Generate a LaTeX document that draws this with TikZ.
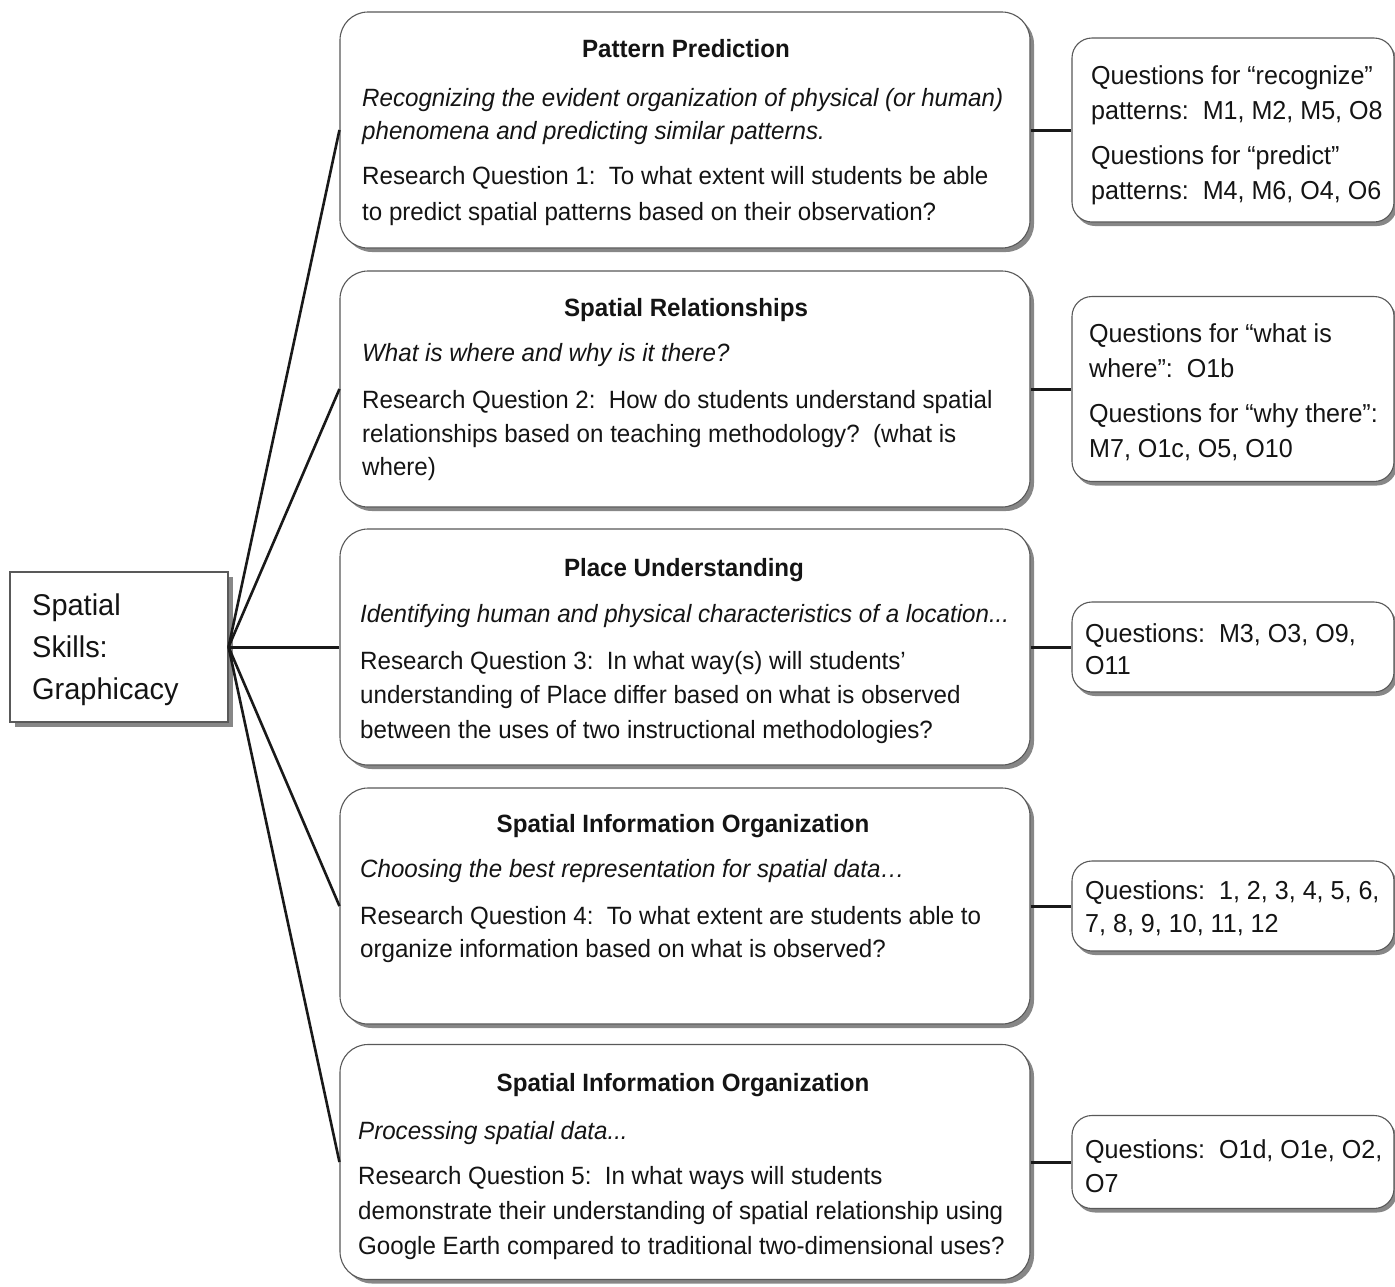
\documentclass[tikz,border=0pt]{standalone}
\usepackage{fontspec}
\setmainfont{Liberation Sans}[FakeStretch=0.965]
\usetikzlibrary{shadows}
\begin{document}
\begin{tikzpicture}[x=1pt,y=-1pt,
  mainbox/.style={draw=black!65, line width=1.1pt, rounded corners=28pt, fill=white,
    minimum width=690pt, minimum height=236pt, inner sep=0pt,
    drop shadow={shadow xshift=4pt, shadow yshift=-4pt, fill=black!55, opacity=0.85}},
  qbox/.style={draw=black!65, line width=1.1pt, rounded corners=20pt, fill=white,
    minimum width=322pt, inner sep=0pt,
    drop shadow={shadow xshift=3pt, shadow yshift=-4pt, fill=black!55, opacity=0.85}},
  rootbox/.style={draw=black!65, line width=1.1pt, fill=white,
    minimum width=218pt, minimum height=150pt, inner sep=0pt,
    drop shadow={shadow xshift=5pt, shadow yshift=-5pt, fill=black!55, opacity=0.85}},
  txt/.style={inner sep=0pt, anchor=base west, text=black!92, font=\fontsize{25}{30}\selectfont},
  qtxt/.style={txt, font=\fontsize{26}{30}\selectfont},
  head/.style={inner sep=0pt, anchor=base, text=black!92, font=\fontsize{25}{30}\selectfont\bfseries},
  roottxt/.style={inner sep=0pt, anchor=base west, text=black!92, font=\fontsize{30}{36}\selectfont},
  fan/.style={draw=black!90, line width=2.6pt},
  link/.style={draw=black!90, line width=3pt}]
\useasboundingbox (0,0) rectangle (1395,1286);
\fill[white] (0,0) rectangle (1395,1286);
\begin{scope}
\clip (0,0) rectangle (1395,1286);
% root
\node[rootbox] (root) at (119,647) {};
\node[roottxt] (rt1) at (32,615) {Spatial};
\node[roottxt] (rt2) at (32,657) {Skills:};
\node[roottxt] (rt3) at (32,699) {Graphicacy};
% main boxes
\node[mainbox] (b1) at (685,130) {};
\node[mainbox] (b2) at (685,389) {};
\node[mainbox] (b3) at (685,647) {};
\node[mainbox] (b4) at (685,906) {};
\node[mainbox, minimum height=235pt] (b5) at (685,1162) {};
% question boxes
\node[qbox, minimum height=184pt] (q1) at (1233,130) {};
\node[qbox, minimum height=185pt] (q2) at (1233,389) {};
\node[qbox, minimum height=90pt] (q3) at (1233,647) {};
\node[qbox, minimum height=90pt] (q4) at (1233,906) {};
\node[qbox, minimum height=93pt] (q5) at (1233,1162) {};
% connectors
\draw[fan] (root.east) -- (b1.west);
\draw[fan] (root.east) -- (b2.west);
\draw[link] (root.east) -- (b3.west);
\draw[fan] (root.east) -- (b4.west);
\draw[fan] (root.east) -- (b5.west);
\draw[link] (b1.east) -- (q1.west);
\draw[link] (b2.east) -- (q2.west);
\draw[link] (b3.east) -- (q3.west);
\draw[link] (b4.east) -- (q4.west);
\draw[link] (b5.east) -- (q5.west);
% box 1
\node[head] (h1) at (686,57) {Pattern Prediction};
\node[txt] (b1a) at (362,106) {\itshape Recognizing the evident organization of physical (or human)};
\node[txt] (b1b) at (362,139) {\itshape phenomena and predicting similar patterns.};
\node[txt] (b1c) at (362,184) {Research Question 1:\ \ To what extent will students be able};
\node[txt] (b1d) at (362,220) {to predict spatial patterns based on their observation?};
% box 2
\node[head] (h2) at (686,316) {Spatial Relationships};
\node[txt] (b2a) at (362,361) {\itshape What is where and why is it there?};
\node[txt] (b2b) at (362,408) {Research Question 2:\ \ How do students understand spatial};
\node[txt] (b2c) at (362,442) {relationships based on teaching methodology?\ \ (what is};
\node[txt] (b2d) at (362,475) {where)};
% box 3
\node[head] (h3) at (684,576) {Place Understanding};
\node[txt] (b3a) at (360,622) {\itshape Identifying human and physical characteristics of a location...};
\node[txt] (b3b) at (360,669) {Research Question 3:\ \ In what way(s) will students'};
\node[txt] (b3c) at (360,703) {understanding of Place differ based on what is observed};
\node[txt] (b3d) at (360,738) {between the uses of two instructional methodologies?};
% box 4
\node[head] (h4) at (683,832) {Spatial Information Organization};
\node[txt] (b4a) at (360,877) {\itshape Choosing the best representation for spatial data…};
\node[txt] (b4b) at (360,924) {Research Question 4:\ \ To what extent are students able to};
\node[txt] (b4c) at (360,957) {organize information based on what is observed?};
% box 5
\node[head] (h5) at (683,1091) {Spatial Information Organization};
\node[txt] (b5a) at (358,1139) {\itshape Processing spatial data...};
\node[txt] (b5b) at (358,1184) {Research Question 5:\ \ In what ways will students};
\node[txt] (b5c) at (358,1219) {demonstrate their understanding of spatial relationship using};
\node[txt] (b5d) at (358,1254) {Google Earth compared to traditional two-dimensional uses?};
% question texts
\node[qtxt] (q1a) at (1091,84) {Questions for “recognize”};
\node[qtxt] (q1b) at (1091,119) {patterns:\ \ M1, M2, M5, O8};
\node[qtxt] (q1c) at (1091,164) {Questions for “predict”};
\node[qtxt] (q1d) at (1091,199) {patterns:\ \ M4, M6, O4, O6};
\node[qtxt] (q2a) at (1089,342) {Questions for “what is};
\node[qtxt] (q2b) at (1089,377) {where”:\ \ O1b};
\node[qtxt] (q2c) at (1089,422) {Questions for “why there”:};
\node[qtxt] (q2d) at (1089,457) {M7, O1c, O5, O10};
\node[qtxt] (q3a) at (1085,642) {Questions:\ \ M3, O3, O9,};
\node[qtxt] (q3b) at (1085,674) {O11};
\node[qtxt] (q4a) at (1085,899) {Questions:\ \ 1, 2, 3, 4, 5, 6,};
\node[qtxt] (q4b) at (1085,932) {7, 8, 9, 10, 11, 12};
\node[qtxt] (q5a) at (1085,1158) {Questions:\ \ O1d, O1e, O2,};
\node[qtxt] (q5b) at (1085,1192) {O7};
\end{scope}
\end{tikzpicture}
\end{document}
